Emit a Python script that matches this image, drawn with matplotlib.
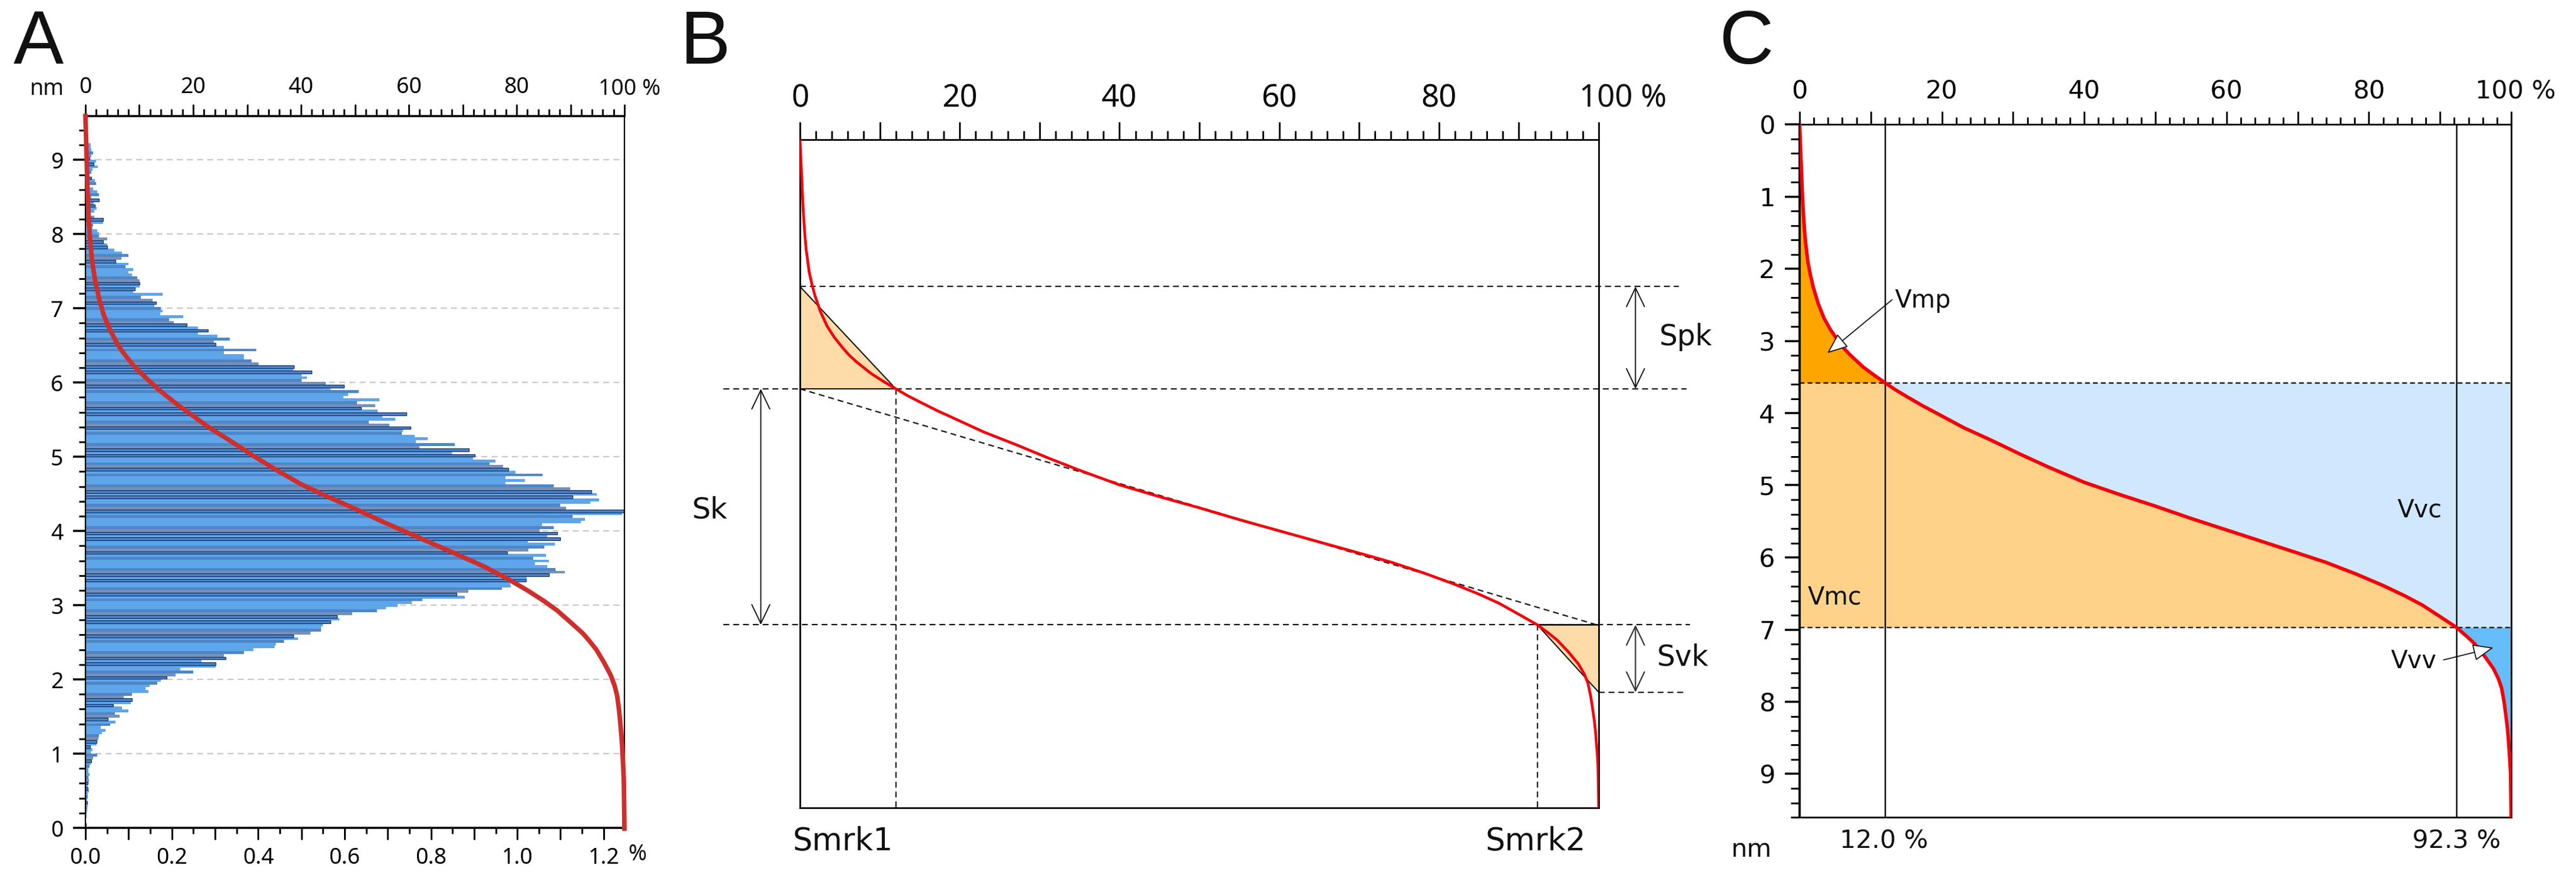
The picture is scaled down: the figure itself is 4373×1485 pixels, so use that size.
import matplotlib
matplotlib.use("Agg")
import matplotlib.pyplot as plt
import numpy as np

W, H = 4373, 1485

# bearing curve: material ratio (%) against depth (nm)
curve_pct = [0, 0.1, 0.2, 0.4, 0.6, 0.78, 1.15, 1.5, 1.9, 2.6, 3.4, 4.3, 5.2, 6.1, 7.05, 8.9, 10.4, 12, 13.5, 15.2,
             17.3, 19.6, 23, 27, 31, 35, 40, 45, 50, 55, 60, 65, 70, 74, 78.2, 82, 85, 87.5, 90, 92.3, 93.6, 94.8,
             96.2, 97, 97.5, 98.2, 98.65, 99, 99.2, 99.45, 99.6, 99.8, 99.9, 100]
curve_depth = [0, 0.25, 0.5, 1.0, 1.35, 1.58, 1.9, 2.08, 2.25, 2.48, 2.68, 2.84, 2.97, 3.09, 3.19, 3.36, 3.47, 3.58, 3.68, 3.78,
               3.9, 4.02, 4.2, 4.38, 4.57, 4.75, 4.96, 5.13, 5.29, 5.46, 5.62, 5.78, 5.94, 6.07, 6.23, 6.39, 6.53, 6.66, 6.82, 6.97, 7.08, 7.19,
               7.36, 7.47, 7.54, 7.68, 7.81, 8.0, 8.15, 8.35, 8.51, 8.8, 8.97, 9.6]

# histogram of panel A, from the top bin downwards (%)
hist_vals = [.012, .012, .014, .018, .014, .010, .025, .019, .029, .016, .014, .010, .014, .022, .025, .010, .018,
             .027, .031, .014, .031, .019, .022, .026, .020, .012, .020, .041, .041, .018, .016, .027, .031,
             .032, .05, .041, .05, .05, .067, .085, .099, .083, .07, .1, .093, .111, .1, .108, .12, .126, .126, .126,
             .114, .11, .179, .128, .156, .164, .16, .175, .179, .173, .226, .193, .204, .235, .261, .284, .261,
             .306, .334, .297, .302, .32, .395, .32, .367, .367, .385, .401, .483, .482,
             .524, .501, .513, .501, .557, .599, .567, .633, .608, .598, .68, .629, .671, .638, .677, .744, .687,
             .717, .656, .704, .753, .735, .733, .762, .792, .765, .855, .773, .888, .849, .902, .897, .949, .935,
             .967, .979, .996, 1.058, .973, 1.018, .973, 1.084, 1.122,
             1.172, 1.184, 1.128, 1.189, 1.169, 1.100, 1.113, 1.250, 1.242, 1.128, 1.156, 1.147, 1.057, 1.084,
             1.052, 1.093, 1.069, 1.099, 1.024, 1.087, 1.063, 1.026, .977, 1.067, 1.037, 1.073, 1.041, 1.069,
             1.088, 1.110, 1.074, 1.021, 1.020, .984, .985, .964, .887, .859, .879, .780, .755, .723, .695,
             .675, .618, .583, .588, .568, .550, .545, .545, .521, .482, .492, .459, .441, .438, .389, .367, .321,
             .325, .269, .301, .301, .219, .249, .208, .188, .175, .166, .149, .139, .146, .108, .088, .108, .105,
             .064, .084, .1, .068, .079, .052, .07, .057, .036, .047, .038, .032, .03, .026, .026, .011,
             .016, .012, .027, .018, .014, .012, .010, .007, .007, .010, .007, .008, .005, .006, .006, .008, .005,
             .005, .004, .004, .006, .004, .004, .003, .003, .002, .002, .001]
hist_top = 9.206
hist_bin = 0.0374

# values printed on / marked in the plots
pct_ticks = [0, 20, 40, 60, 80]
density_ticks = [0.0, 0.2, 0.4, 0.6, 0.8, 1.0, 1.2]
a_nm_ticks = [0, 1, 2, 3, 4, 5, 6, 7, 8, 9]
c_nm_ticks = [0, 1, 2, 3, 4, 5, 6, 7, 8, 9]
smr1, smr2 = 12.0, 92.3
sk_top, sk_bottom = 3.58, 6.97
spk_top, svk_bottom = 2.11, 7.94
core_end = 6.98


def panel(l, t, r, b):
    return plt.gcf().add_axes([l / W, 1 - b / H, (r - l) / W, (b - t) / H])


def px_text(x, y, s, size, **kw):
    kw.setdefault("ha", "center")
    kw.setdefault("va", "center")
    return plt.gcf().text(x / W, 1 - y / H, s, fontsize=size, color="#111111", **kw)


def px(n):
    return n * 72 / 100


def top_axis(ax, size, major, minor, width, pad, **font):
    ax.set_xlim(0, 100)
    ax.xaxis.set_ticks_position("top")
    ax.set_xticks(np.arange(0, 101, 10))
    ax.set_xticks(np.arange(0, 101, 2), minor=True)
    ax.set_xticklabels([str(v) if v in pct_ticks else "" for v in np.arange(0, 101, 10)], fontsize=size, **font)
    ax.tick_params(axis="x", which="major", length=px(major), width=px(width), pad=pad, color="#111111")
    ax.tick_params(axis="x", which="minor", length=px(minor), width=px(width), color="#111111")


fig = plt.figure(figsize=(W / 100, H / 100), dpi=100, facecolor="white")
narrow = {"family": "Noto Sans"}

px_text(65, 75, "A", 92, family="Liberation Sans")
px_text(1197, 75, "B", 92, family="Liberation Sans")
px_text(2965, 75, "C", 92, family="Liberation Sans")

# ---- panel A ----
ax = panel(145, 197, 1060, 1405)
ax.set_xlim(0, 1.248)
ax.set_ylim(0, 9.59)
for v in range(1, 10):
    ax.plot([0, 1.248], [v, v], color="#c9c9c9", lw=1.7, dashes=(4.3, 3.0), zorder=1)

h = hist_top - np.arange(len(hist_vals)) * hist_bin
vals = np.array(hist_vals)
tones = np.array(list("LLLMGDLDLLMGDLM"))[np.arange(len(vals)) % 15]
faces = {"L": "#5ea5ea", "M": "#4f86c8", "G": "#7690b8", "D": "#4a80c4"}
for tone, col in faces.items():
    m = tones == tone
    ax.barh(h[m], vals[m], height=hist_bin, color=col, edgecolor="#0c2a5c" if tone == "D" else col,
            linewidth=0.8 if tone == "D" else 0, zorder=2)

ax.set_xticks(np.arange(0, 1.21, 0.05), minor=True)
ax.set_xticks(np.arange(0, 1.21, 0.1))
ax.set_xticklabels(["%.1f" % v if i % 2 == 0 else "" for i, v in enumerate(np.arange(0, 1.21, 0.1))], fontsize=27, **narrow)
ax.tick_params(axis="x", which="major", length=px(20), width=px(3), pad=9)
ax.tick_params(axis="x", which="minor", length=px(10), width=px(3))
ax.set_yticks(a_nm_ticks)
ax.set_yticks(np.arange(0, 9.5, 0.2), minor=True)
ax.set_yticklabels([str(v) for v in a_nm_ticks], fontsize=27, **narrow)
ax.tick_params(axis="y", which="major", length=px(21), width=px(3.5), pad=12)
ax.tick_params(axis="y", which="minor", length=px(11), width=px(3))
for s in ax.spines.values():
    s.set_linewidth(px(2.2))
ax.spines["bottom"].set_linewidth(px(3.5))
ax.spines["top"].set_linewidth(px(3.5))

ax_t = ax.twiny()
top_axis(ax_t, 27, 20, 12, 3, 7, **narrow)
ax_t.plot(curve_pct, 9.59 - np.array(curve_depth), color="#cf2f2c", lw=5.6, clip_on=False, zorder=5)
px_text(80, 151, "nm", 27, **narrow)
px_text(1069, 151, "100 %", 27, **narrow)
px_text(1082, 1450, "%", 27, **narrow)

# ---- panel B ----
ax = panel(1358, 237, 2714, 1371)
ax.set_ylim(9.6, 0)
ax.set_yticks([])
top_axis(ax, 38, 30, 15, 3, 9, **narrow)
for s in ax.spines.values():
    s.set_linewidth(px(2.8))
ax.fill([0, smr1, 0], [spk_top, sk_top, sk_top], color="#fedcaa", zorder=1)
ax.fill([smr2, 100, 100], [sk_bottom, sk_bottom, svk_bottom], color="#fedcaa", zorder=1)
ax.plot([0, smr1, 0], [spk_top, sk_top, sk_top], color="#111111", lw=1.5, zorder=2)
ax.plot([smr2, 100, smr2, 100], [sk_bottom, sk_bottom, sk_bottom, svk_bottom], color="#111111", lw=1.5, zorder=2)
dash = dict(color="#111111", lw=1.6, dashes=(4.5, 3), clip_on=False, zorder=2)
ax.plot([0, 110], [spk_top, spk_top], **dash)
ax.plot([-9.6, 0], [sk_top, sk_top], **dash)
ax.plot([smr1, 111], [sk_top, sk_top], **dash)
ax.plot([-9.6, 111.4], [sk_bottom, sk_bottom], **dash)
ax.plot([100, 111], [svk_bottom, svk_bottom], **dash)
ax.plot([smr1, smr1], [sk_top, 9.6], **dash)
ax.plot([smr2, smr2], [sk_bottom, 9.6], **dash)
ax.plot([0, 100], [sk_top, core_end], **dash)
ax.plot(curve_pct, curve_depth, color="#f5000a", lw=3.4, zorder=4)


def dim_arrow(ax, x, y0, y1, col="#111111", lw=1.4):
    ax.annotate("", xy=(x, y1), xytext=(x, y0), annotation_clip=False,
                arrowprops=dict(arrowstyle="<->,head_length=2.3,head_width=1.1", mutation_scale=10,
                                shrinkA=0, shrinkB=0, color=col, lw=lw))


dim_arrow(ax, 104.6, spk_top, sk_top)
dim_arrow(ax, -4.9, sk_top, sk_bottom)
dim_arrow(ax, 104.6, sk_bottom, svk_bottom, col="#333333", lw=1.6)
px_text(2862, 572, "Spk", 35)
px_text(1205, 865, "Sk", 36)
px_text(2857, 1116, "Svk", 35)
px_text(1431, 1428, "Smrk1", 38)
px_text(2607, 1428, "Smrk2", 38)
px_text(2755, 168, "100 %", 38, **narrow)

# ---- panel C ----
ax = panel(3055, 211, 4263, 1387)
ax.set_ylim(9.6, 0)
top_axis(ax, 31, 22, 12, 3, 9)
ax.set_yticks(c_nm_ticks)
ax.set_yticks(np.arange(0, 9.61, 0.2), minor=True)
ax.set_yticklabels([str(v) for v in c_nm_ticks], fontsize=31)
ax.tick_params(axis="y", which="major", length=px(25), width=px(3.5), pad=12)
ax.tick_params(axis="y", which="minor", length=px(15), width=px(3))
for s in ax.spines.values():
    s.set_linewidth(px(2.8))
ax.spines["left"].set_linewidth(px(4))

cp = np.array(curve_pct)
cd = np.array(curve_depth)
ax.fill_betweenx(cd, 0, cp, where=cd <= sk_top, color="#ffa500", lw=0, zorder=1)
ax.fill_betweenx(cd, 0, cp, where=(cd >= sk_top) & (cd <= sk_bottom), color="#ffd28a", lw=0, zorder=1)
ax.fill_betweenx(cd, cp, 100, where=(cd >= sk_top) & (cd <= sk_bottom), color="#cfe8fd", lw=0, zorder=1)
ax.fill_betweenx(cd, cp, 100, where=cd >= sk_bottom, color="#66bdfb", lw=0, zorder=1)
ax.axvline(smr1, color="#111111", lw=1.8, zorder=2)
ax.axvline(smr2, color="#111111", lw=1.8, zorder=2)
ax.plot([0, 100], [sk_top, sk_top], color="#111111", lw=1.7, dashes=(3.5, 2.2), zorder=2)
ax.plot([0, 100], [sk_bottom, sk_bottom], color="#111111", lw=1.7, dashes=(3.5, 2.2), zorder=2)
ax.plot(cp, cd, color="#f5000a", lw=4.3, zorder=4)


def hollow_arrow(ax, tail, tip):
    ax.annotate("", xy=tip, xytext=tail,
                arrowprops=dict(arrowstyle="-|>,head_length=2.2,head_width=0.9", mutation_scale=10,
                                shrinkA=0, shrinkB=0, fc="white", ec="#111111", lw=1.3), zorder=6)


hollow_arrow(ax, (13.0, 2.43), (3.9, 3.17))
hollow_arrow(ax, (90.5, 7.42), (97.5, 7.25))
px_text(3264, 510, "Vmp", 30)
px_text(4108, 865, "Vvc", 30)
px_text(3115, 1013, "Vmc", 30)
px_text(4098, 1122, "Vvv", 30)
px_text(3198, 1428, "12.0 %", 31)
px_text(4170, 1428, "92.3 %", 31)
px_text(2973, 1442, "nm", 31)
px_text(4270, 155, "100 %", 31)

fig.savefig("out.png", dpi=100, facecolor="white")
